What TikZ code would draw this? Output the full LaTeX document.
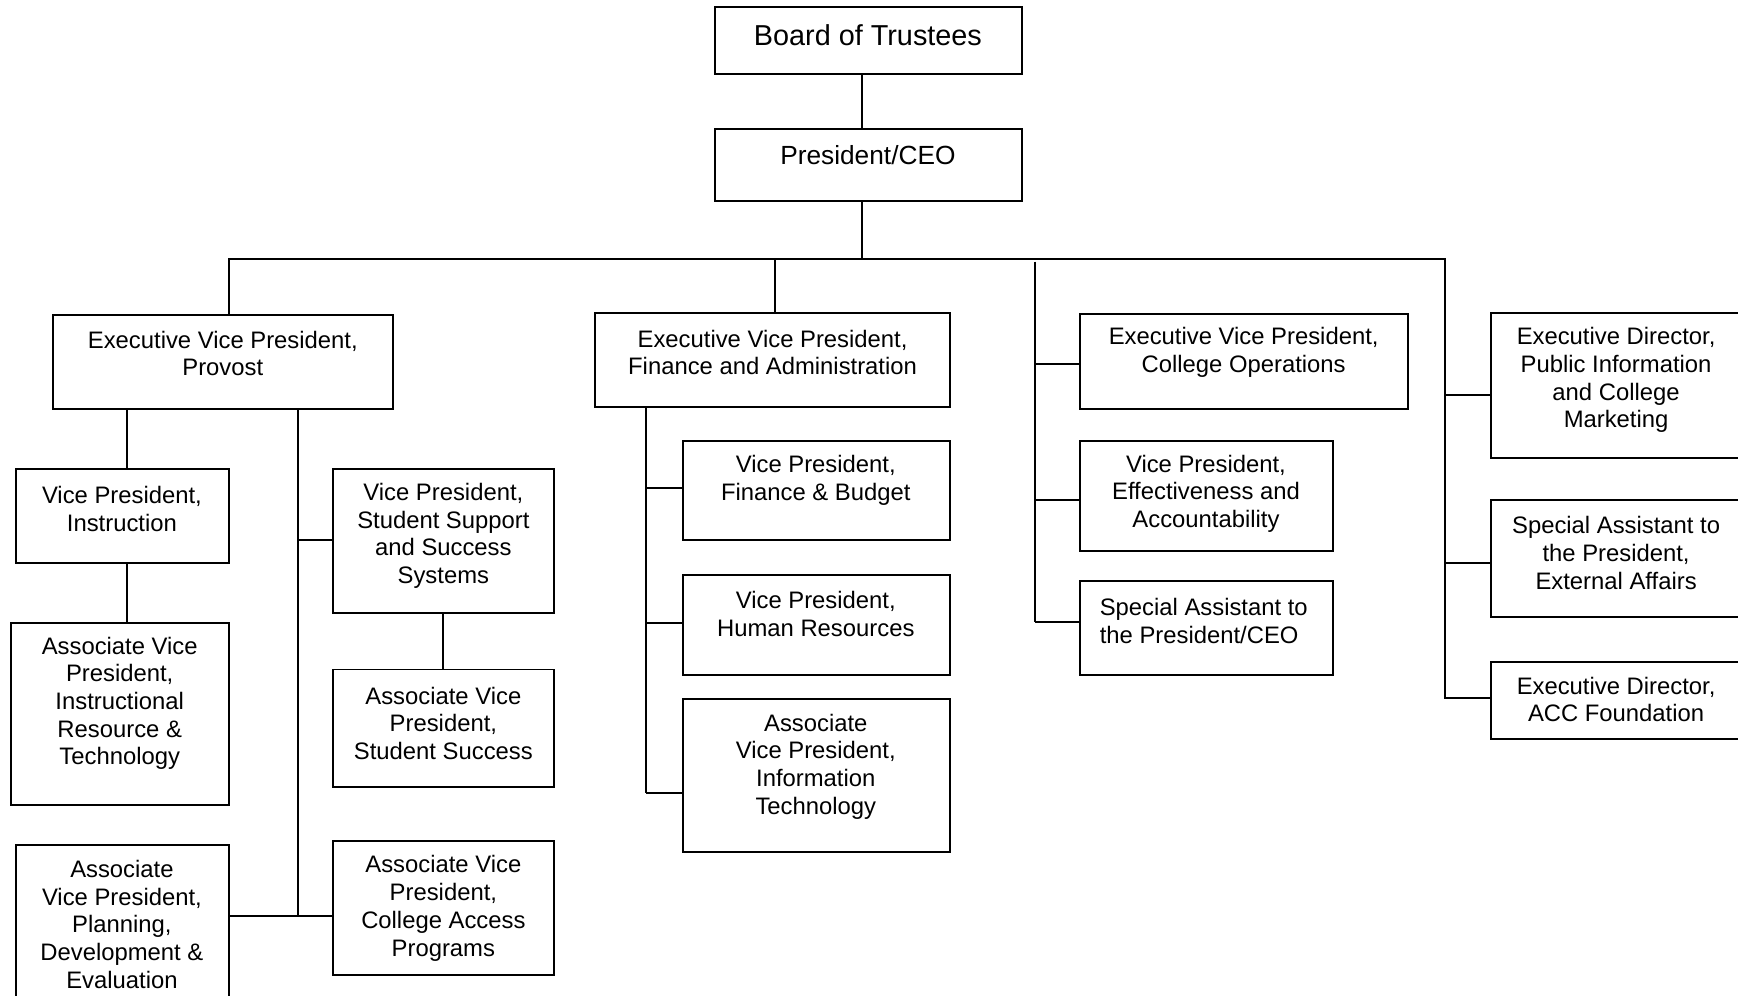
\documentclass[tikz,border=0pt]{standalone}
\usepackage{fontspec}
\setmainfont{Liberation Sans}
\begin{document}
\begin{tikzpicture}[x=1pt,y=-1pt,
  box/.style={draw=black,line width=1.8pt,rectangle,inner sep=0pt,fill=white},
  txt/.style={align=center,inner sep=0pt,font=\fontsize{21.5}{25}\selectfont},
  conn/.style={line width=1.8pt,draw=black}]
\useasboundingbox (0,0) rectangle (1568,897.7);
\clip (0,0) rectangle (1568,897.7);
\fill[white] (0,0) rectangle (1568,897.7);

% boxes
\node[box,minimum width=277,minimum height=61] (bot) at (783.5,36.5) {};
\node[box,minimum width=277,minimum height=65] (pres) at (783.5,148.5) {};
\node[box,minimum width=307,minimum height=85] (prov) at (201.5,326.5) {};
\node[box,minimum width=193,minimum height=85] (vpi) at (110.5,465.5) {};
\node[box,minimum width=197,minimum height=164] (avpir) at (108.5,644) {};
\node[box,minimum width=193,minimum height=148] (avppd) at (110.5,836) {};
\node[box,minimum width=200,minimum height=130] (vpss) at (400,488) {};
\node[box,minimum width=200,minimum height=106] (avpss) at (400,657) {};
\node[box,minimum width=200,minimum height=121] (avpca) at (400,819.5) {};
\node[box,minimum width=320,minimum height=85] (fin) at (697,324.5) {};
\node[box,minimum width=241,minimum height=89] (vpfb) at (736.5,442.5) {};
\node[box,minimum width=241,minimum height=90] (vphr) at (736.5,564) {};
\node[box,minimum width=241,minimum height=138] (avpit) at (736.5,700) {};
\node[box,minimum width=296,minimum height=86] (ops) at (1122,326) {};
\node[box,minimum width=229,minimum height=99] (vpea) at (1088.5,447.5) {};
\node[box,minimum width=229,minimum height=85] (sap) at (1088.5,566.5) {};
\node[box,minimum width=245,minimum height=131] (edpi) at (1467.5,347.5) {};
\node[box,minimum width=245,minimum height=106] (saea) at (1467.5,504) {};
\node[box,minimum width=245,minimum height=70] (edacc) at (1467.5,632) {};

% texts
\node[txt,font=\fontsize{26}{30}\selectfont] (bot-t) at (783,32) {Board of Trustees};
\node[txt,font=\fontsize{23.7}{28}\selectfont] (pres-t) at (783,140) {President/CEO};
\node[txt] (prov-t) at (201,319) {Executive Vice President,\\Provost};
\node[txt] (vpi-t) at (110,459) {Vice President,\\Instruction};
\node[txt] (avpir-t) at (108,634.5) {Associate Vice\\President,\\Instructional\\Resource \&\\Technology};
\node[txt] (avppd-t) at (110,834) {Associate\\Vice President,\\Planning,\\Development \&\\Evaluation};
\node[txt] (vpss-t) at (400,483.5) {Vice President,\\Student Support\\and Success\\Systems};
\node[txt] (avpss-t) at (400,652.5) {Associate Vice\\President,\\Student Success};
\node[txt] (avpca-t) at (400,819.5) {Associate Vice\\President,\\College Access\\Programs};
\node[txt] (fin-t) at (697,318) {Executive Vice President,\\Finance and Administration};
\node[txt] (vpfb-t) at (736,433.5) {Vice President,\\Finance \& Budget};
\node[txt] (vphr-t) at (736,554) {Vice President,\\Human Resources};
\node[txt] (avpit-t) at (736,691.5) {Associate\\Vice President,\\Information\\Technology};
\node[txt] (ops-t) at (1122,318) {Executive Vice President,\\College Operations};
\node[txt] (vpea-t) at (1088,445.5) {Vice President,\\Effectiveness and\\Accountability};
\node[txt,align=left,anchor=west] (sap-t) at (992,560) {Special Assistant to\\the President/CEO};
\node[txt] (edpi-t) at (1458,343) {Executive Director,\\Public Information\\and College\\Marketing};
\node[txt] (saea-t) at (1458,499) {Special Assistant to\\the President,\\External Affairs};
\node[txt] (edacc-t) at (1458,631) {Executive Director,\\ACC Foundation};

% trunk coordinates
\coordinate (tr) at (778,0);
\coordinate (bus) at (0,234);
\coordinate (xp) at (207,0);
\coordinate (xf) at (699,0);
\coordinate (xo) at (934,0);
\coordinate (xr) at (1304,0);
\coordinate (xi) at (115,0);
\coordinate (xs) at (269,0);
\coordinate (xa) at (583,0);

% top
\draw[conn] (bot.south -| tr) -- (pres.north -| tr);
\draw[conn] (pres.south -| tr) -- (tr |- bus);
\draw[conn] (prov.north -| xp) -- (xp |- bus) -- (xr |- bus) -- (1304,630) -- (edacc.west |- 0,630);
\draw[conn] (fin.north -| xf) -- (xf |- bus);

% provost branch
\draw[conn] (prov.south -| xi) -- (vpi.north -| xi);
\draw[conn] (vpi.south -| xi) -- (avpir.north -| xi);
\draw[conn] (prov.south -| xs) -- (269,826);
\draw[conn] (269,487) -- (vpss.west |- 0,487);
\draw[conn] (avppd.east |- 0,826) -- (avpca.west |- 0,826);
\draw[conn] (vpss.south) -- (avpss.north);

% finance branch
\draw[conn] (fin.south -| xa) -- (583,715);
\draw[conn] (583,440) -- (vpfb.west |- 0,440);
\draw[conn] (583,562) -- (vphr.west |- 0,562);
\draw[conn] (583,715) -- (avpit.west |- 0,715);

% operations branch
\draw[conn] (934,236) -- (934,561);
\draw[conn] (934,328) -- (ops.west |- 0,328);
\draw[conn] (934,451) -- (vpea.west |- 0,451);
\draw[conn] (934,561) -- (sap.west |- 0,561);

% right branch
\draw[conn] (1304,356) -- (edpi.west |- 0,356);
\draw[conn] (1304,508) -- (saea.west |- 0,508);
\end{tikzpicture}
\end{document}
